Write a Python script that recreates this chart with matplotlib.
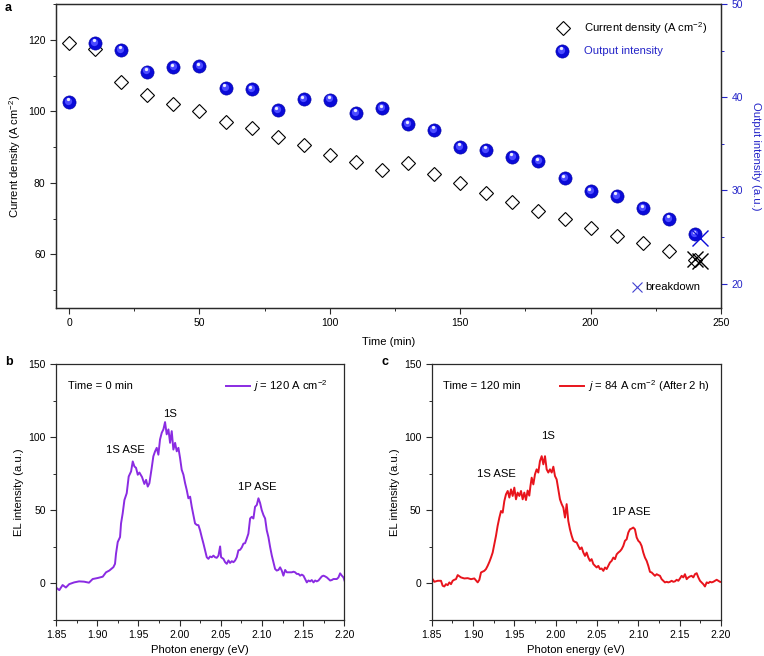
import numpy as np
import matplotlib
matplotlib.use("Agg")
import matplotlib.pyplot as plt
from matplotlib.ticker import MultipleLocator
from matplotlib.transforms import offset_copy

plt.rcParams['font.family'] = ['Liberation Sans', 'DejaVu Sans']
plt.rcParams['mathtext.fontset'] = 'custom'
plt.rcParams['mathtext.rm'] = 'Liberation Sans'
plt.rcParams['mathtext.it'] = 'Liberation Sans:italic'

# ---------------- data: panel a ----------------
time_min = [0, 10, 20, 30, 40, 50, 60, 70, 80, 90, 100, 110, 120, 130, 140, 150,
            160, 170, 180, 190, 200, 210, 220, 230, 240]
current_density = [119.2, 117.3, 108.2, 104.5, 102.1, 100.2, 97.0, 95.2, 92.9, 90.5,
                   87.9, 85.9, 83.7, 85.6, 82.6, 79.9, 77.2, 74.5, 72.0, 69.8,
                   67.4, 65.2, 63.1, 60.8, 58.5]
output_intensity = [39.5, 45.85, 45.1, 42.75, 43.2, 43.3, 41.0, 40.85, 38.6, 39.8,
                    39.75, 38.35, 38.8, 37.1, 36.5, 34.7, 34.35, 33.6, 33.15, 31.3,
                    29.9, 29.45, 28.1, 26.95, 25.3]
breakdown_time_cd = [240, 242]
breakdown_cd = [58.6, 58.0]
breakdown_time_oi = [242]
breakdown_oi = [24.9]

# ---------------- data: panel b (Time = 0 min) ----------------
energy_b = [1.850, 1.854, 1.858, 1.862, 1.866, 1.872, 1.878, 1.884, 1.890, 1.8945,
            1.9006, 1.9067, 1.9107, 1.9147, 1.9196, 1.9216, 1.9228, 1.9249, 1.9277, 1.9289,
            1.9309, 1.9330, 1.9358, 1.9382, 1.9411, 1.9431, 1.9451, 1.9471, 1.9492, 1.9512,
            1.9544, 1.9572, 1.9593, 1.9613, 1.9633, 1.9661, 1.9681, 1.9702, 1.9722, 1.9742,
            1.9762, 1.9783, 1.9803, 1.9823, 1.9843, 1.9864, 1.9884, 1.9904, 1.9924, 1.9945,
            1.9965, 1.9985, 2.0005, 2.0025, 2.0046, 2.0066, 2.0086, 2.0106, 2.0127, 2.0147,
            2.0167, 2.0187, 2.0208, 2.0228, 2.0248, 2.0268, 2.0289, 2.0309, 2.0329, 2.0349,
            2.0369, 2.0390, 2.0410, 2.0430, 2.0450, 2.0471, 2.0491, 2.0503, 2.0531, 2.0552,
            2.0572, 2.0592, 2.0612, 2.0633, 2.0653, 2.0673, 2.0693, 2.0713, 2.0734, 2.0754,
            2.0774, 2.0794, 2.0814, 2.0834, 2.0855, 2.0875, 2.0895, 2.0915, 2.0936, 2.0956,
            2.0976, 2.0996, 2.1017, 2.1037, 2.1057, 2.1077, 2.1098, 2.1118, 2.1138, 2.1158,
            2.1178, 2.1199, 2.1219, 2.1239, 2.1259, 2.1280, 2.1300, 2.1320, 2.1361, 2.1381,
            2.1401, 2.1421, 2.1442, 2.1462, 2.1482, 2.1502, 2.1523, 2.1543, 2.1563, 2.1583,
            2.1603, 2.1624, 2.1644, 2.1664, 2.1684, 2.1705, 2.1725, 2.1745, 2.1765, 2.1786,
            2.1806, 2.1826, 2.1846, 2.1866, 2.1887, 2.1907, 2.1927, 2.1947, 2.1968, 2.1988,
            2.2000]
el_b = [-2.8, -4.6, -1.1, -2.8, -0.5, 0.7, 1.4, 1.2, 0.5, 3.0,
        3.7, 4.6, 7.6, 8.8, 11.1, 13.4, 20.3, 28.3, 31.7, 41.0,
        47.9, 57.0, 61.7, 73.1, 76.6, 83.4, 80.0, 79.0, 74.3, 75.8,
        72.7, 68.0, 70.8, 66.2, 68.5, 78.9, 86.9, 90.3, 92.7, 88.0,
        98.4, 103.0, 105.3, 110.3, 101.9, 105.3, 96.1, 104.1, 91.5, 96.1,
        90.3, 92.7, 85.8, 77.7, 74.3, 68.6, 63.9, 58.2, 59.3, 52.4,
        46.7, 41.0, 40.0, 39.8, 36.3, 31.7, 27.2, 22.6, 17.9, 16.8,
        18.4, 17.9, 19.0, 17.9, 17.5, 19.0, 25.3, 17.9, 16.8, 14.5,
        13.4, 15.7, 14.0, 15.2, 14.5, 15.7, 17.9, 22.6, 23.0, 24.6,
        27.2, 27.5, 30.6, 34.0, 44.4, 45.5, 44.4, 52.4, 53.6, 58.2,
        55.0, 50.1, 46.7, 44.4, 36.3, 31.7, 24.8, 19.1, 14.5, 9.9,
        8.8, 9.2, 11.0, 8.8, 5.3, 9.2, 7.6, 7.6, 7.6, 8.0,
        7.6, 6.5, 6.5, 5.3, 6.0, 5.3, 3.0, 0.7, 2.0, 1.4,
        2.3, 0.7, 2.0, 1.4, 2.0, 3.4, 4.8, 5.3, 4.8, 4.1,
        3.0, 2.0, 2.3, 3.0, 3.0, 3.0, 4.1, 6.9, 5.3, 4.1,
        2.0]

# ---------------- data: panel c (Time = 120 min) ----------------
energy_c = [1.8500, 1.8512, 1.8532, 1.8573, 1.8613, 1.8633, 1.8653, 1.8673, 1.8694, 1.8714,
            1.8734, 1.8754, 1.8774, 1.8794, 1.8815, 1.8855, 1.8895, 1.8936, 1.8976, 1.9016,
            1.9057, 1.9077, 1.9097, 1.9137, 1.9157, 1.9177, 1.9198, 1.9218, 1.9238, 1.9258,
            1.9278, 1.9298, 1.9319, 1.9339, 1.9359, 1.9379, 1.9399, 1.9420, 1.9440, 1.9460,
            1.9480, 1.9500, 1.9520, 1.9540, 1.9561, 1.9581, 1.9601, 1.9621, 1.9641, 1.9661,
            1.9681, 1.9695, 1.9710, 1.9730, 1.9750, 1.9770, 1.9790, 1.9810, 1.9831, 1.9851,
            1.9871, 1.9891, 1.9911, 1.9931, 1.9952, 1.9972, 1.9992, 2.0012, 2.0032, 2.0052,
            2.0073, 2.0093, 2.0113, 2.0133, 2.0153, 2.0173, 2.0194, 2.0214, 2.0234, 2.0254,
            2.0274, 2.0294, 2.0315, 2.0335, 2.0355, 2.0375, 2.0395, 2.0415, 2.0435, 2.0456,
            2.0476, 2.0496, 2.0516, 2.0536, 2.0556, 2.0577, 2.0597, 2.0617, 2.0637, 2.0657,
            2.0677, 2.0698, 2.0718, 2.0738, 2.0758, 2.0778, 2.0798, 2.0818, 2.0838, 2.0859,
            2.0879, 2.0899, 2.0919, 2.0939, 2.0959, 2.0980, 2.1000, 2.1020, 2.1040, 2.1060,
            2.1080, 2.1101, 2.1121, 2.1141, 2.1161, 2.1181, 2.1201, 2.1222, 2.1242, 2.1262,
            2.1282, 2.1302, 2.1322, 2.1343, 2.1363, 2.1383, 2.1403, 2.1423, 2.1443, 2.1464,
            2.1484, 2.1504, 2.1524, 2.1544, 2.1564, 2.1585, 2.1605, 2.1625, 2.1645, 2.1665,
            2.1685, 2.1706, 2.1726, 2.1746, 2.1766, 2.1786, 2.1806, 2.1827, 2.1847, 2.1867,
            2.1887, 2.1907, 2.1927, 2.1948, 2.1968, 2.1988, 2.2000]
el_c = [3.0, 2.9, 1.1, 1.8, 1.8, -1.6, -2.1, -0.5, -1.2, 0.7,
        -0.5, 1.8, 2.5, 2.9, 5.7, 4.1, 3.4, 3.6, 2.9, 3.4,
        0.7, 2.5, 7.5, 8.6, 9.8, 12.0, 14.7, 17.7, 21.1, 26.8,
        32.5, 39.3, 45.0, 49.5, 48.4, 56.3, 60.9, 63.2, 58.7, 64.3,
        59.8, 65.5, 57.5, 62.1, 59.8, 63.2, 57.5, 62.1, 57.0, 63.5,
        60.0, 66.6, 72.3, 67.7, 74.6, 78.0, 75.8, 83.6, 87.0, 81.4,
        87.0, 78.0, 75.8, 78.0, 75.8, 79.8, 73.4, 71.1, 64.3, 57.5,
        54.2, 51.8, 45.0, 54.2, 42.7, 37.0, 32.5, 29.1, 28.4, 28.0,
        25.6, 23.4, 24.6, 21.1, 18.8, 21.1, 17.7, 15.4, 16.6, 13.2,
        12.0, 10.9, 12.0, 9.8, 10.2, 8.6, 10.9, 9.8, 12.0, 14.3,
        15.4, 17.7, 16.6, 19.9, 21.1, 22.0, 23.4, 25.6, 29.1, 30.2,
        34.8, 37.0, 37.5, 38.2, 37.0, 31.4, 29.1, 28.0, 25.6, 21.1,
        17.7, 15.4, 12.0, 7.9, 7.5, 6.3, 5.2, 6.3, 5.7, 5.2,
        2.9, 1.8, 0.7, 1.1, 0.7, 1.1, 1.8, 1.1, 1.4, 2.5,
        1.8, 3.4, 5.2, 4.1, 6.3, 2.9, 4.1, 4.8, 5.2, 4.1,
        6.3, 7.0, 4.1, 1.8, 0.7, -0.5, -2.1, 0.7, 0.2, 1.1,
        0.7, 1.1, 1.8, 2.5, 1.8, 1.1, 1.0]

# ---------------- styling ----------------
BLUE_TXT = '#2424c8'
SPH_BLUE = '#0a0ad8'
PURPLE = '#8a2be2'
RED = '#e8141c'
FS_TICK = 7.5
FS_LAB = 8.1

fig = plt.figure(figsize=(7.64, 6.56), dpi=100)


def style_axes(ax):
    for s in ax.spines.values():
        s.set_linewidth(0.9)
        s.set_color('#2a2a2a')
    ax.tick_params(which='major', direction='out', length=4, width=0.8,
                   labelsize=FS_TICK, color='#2a2a2a')
    ax.tick_params(which='minor', direction='out', length=2.5, width=0.7,
                   color='#2a2a2a')


# ---------------- panel a ----------------
axa = fig.add_axes([0.0733, 0.5305, 0.8704, 0.4634])
style_axes(axa)
axa.set_xlim(-5, 250)
axa.set_ylim(45, 130)
axa.xaxis.set_major_locator(MultipleLocator(50))
axa.xaxis.set_minor_locator(MultipleLocator(25))
axa.yaxis.set_major_locator(MultipleLocator(20))
axa.yaxis.set_minor_locator(MultipleLocator(10))
axa.set_xlabel('Time (min)', fontsize=FS_LAB, labelpad=6)
axa.set_ylabel('Current density (A cm$^{-2}$)', fontsize=FS_LAB, labelpad=4)

axa.plot(time_min, current_density, linestyle='none', marker='D', ms=7.6,
         mfc='white', mec='black', mew=0.8, zorder=3)
axa.plot(breakdown_time_cd, breakdown_cd, linestyle='none', marker='x', ms=11,
         mec='black', mew=1.0, zorder=4)

axb2 = axa.twinx()
axb2.set_ylim(17.4, 50)
axb2.yaxis.set_major_locator(MultipleLocator(10))
axb2.yaxis.set_minor_locator(MultipleLocator(5))
for s in axb2.spines.values():
    s.set_linewidth(0.9)
    s.set_color('#2a2a2a')
axb2.tick_params(which='major', direction='out', length=4, width=0.8,
                 labelsize=FS_TICK, color=BLUE_TXT, labelcolor=BLUE_TXT)
axb2.tick_params(which='minor', direction='out', length=2.5, width=0.7, color=BLUE_TXT)
axb2.set_ylabel('Output intensity (a.u.)', fontsize=FS_LAB, color=BLUE_TXT,
                rotation=270, va='bottom', labelpad=6)


def spheres(ax, x, y, base_tr, ms=9.5):
    tr0 = offset_copy(base_tr, fig=fig, x=0, y=0, units='points')
    ax.plot(x, y, linestyle='none', marker='o', ms=ms, mfc=SPH_BLUE,
            mec='#0000a0', mew=0.4, zorder=3, transform=tr0, clip_on=False)
    tr1 = offset_copy(base_tr, fig=fig, x=-0.6, y=0.8, units='points')
    ax.plot(x, y, linestyle='none', marker='o', ms=ms * 0.55, mfc='#4a4aff',
            mec='none', transform=tr1, zorder=3.1, clip_on=False)
    tr2 = offset_copy(base_tr, fig=fig, x=-0.9, y=1.8, units='points')
    ax.plot(x, y, linestyle='none', marker='o', ms=ms * 0.25, mfc='white',
            mec='none', alpha=0.9, transform=tr2, zorder=3.2, clip_on=False)


spheres(axb2, time_min, output_intensity, axb2.transData)
axb2.plot(breakdown_time_oi, breakdown_oi, linestyle='none', marker='x', ms=12,
          mec=SPH_BLUE, mew=1.0, zorder=4)

# legend of panel a (manual, in axes fraction)
axa.plot([0.762], [0.920], transform=axa.transAxes, marker='D', ms=7.6,
         mfc='white', mec='black', mew=0.8, linestyle='none', clip_on=False)
axa.text(0.794, 0.920, 'Current density (A cm$^{-2}$)', transform=axa.transAxes,
         fontsize=FS_LAB, va='center', ha='left')
spheres(axa, [0.761], [0.846], axa.transAxes, ms=9.5)
axa.text(0.794, 0.846, 'Output intensity', transform=axa.transAxes,
         fontsize=FS_LAB, va='center', ha='left', color=BLUE_TXT)
axa.plot([0.874], [0.068], transform=axa.transAxes, marker='x', ms=7,
         mec='#4040d0', mew=0.8, linestyle='none')
axa.text(0.886, 0.068, 'breakdown', transform=axa.transAxes,
         fontsize=FS_LAB, va='center', ha='left')


# ---------------- panels b and c ----------------
def spectrum_panel(rect, e, el, color, time_txt, leg_txt, ann, leg_line):
    ax = fig.add_axes(rect)
    style_axes(ax)
    ax.set_xlim(1.85, 2.20)
    ax.set_ylim(-25, 150)
    ax.xaxis.set_minor_locator(MultipleLocator(0.025))
    ax.yaxis.set_major_locator(MultipleLocator(50))
    ax.yaxis.set_minor_locator(MultipleLocator(25))
    ticks = np.arange(1.85, 2.2001, 0.05)
    ax.set_xticks(ticks)
    ax.set_xticklabels(['%.2f' % v for v in ticks])
    ax.plot(e, el, color=color, lw=1.4)
    ax.set_xlabel('Photon energy (eV)', fontsize=FS_LAB, labelpad=3)
    ax.set_ylabel('EL intensity (a.u.)', fontsize=FS_LAB, labelpad=3)
    ax.text(0.04, 0.915, time_txt, transform=ax.transAxes, fontsize=FS_LAB,
            va='center', ha='left')
    ax.plot(leg_line[:2], [0.915, 0.915], transform=ax.transAxes, color=color, lw=1.4)
    ax.text(leg_line[2], 0.915, leg_txt, transform=ax.transAxes, fontsize=FS_LAB,
            va='center', ha='left')
    for txt, x, y in ann:
        ax.text(x, y, txt, fontsize=FS_LAB, ha='center', va='center')
    return ax


spectrum_panel([0.0733, 0.0549, 0.3776, 0.3902], energy_b, el_b, PURPLE,
               'Time = 0 min', '$\\it{j}$ = 120 A cm$^{-2}$',
               [('1S ASE', 1.9338, 91.5), ('1S', 1.9884, 116.0), ('1P ASE', 2.0948, 66.2)],
               (0.590, 0.672, 0.684))
spectrum_panel([0.5650, 0.0549, 0.3787, 0.3902], energy_c, el_c, RED,
               'Time = 120 min', '$\\it{j}$ = 84 A cm$^{-2}$ (After 2 h)',
               [('1S ASE', 1.9286, 74.6), ('1S', 1.9910, 100.7), ('1P ASE', 2.0920, 48.8)],
               (0.445, 0.528, 0.540))

# panel letters
fig.text(5 / 764, 1 - 8 / 656, 'a', fontsize=9, fontweight='bold', va='center', ha='left')
fig.text(5 / 764, 1 - 362 / 656, 'b', fontsize=9, fontweight='bold', va='center', ha='left')
fig.text(381 / 764, 1 - 362 / 656, 'c', fontsize=9, fontweight='bold', va='center', ha='left')

fig.savefig('out.png', dpi=100)
